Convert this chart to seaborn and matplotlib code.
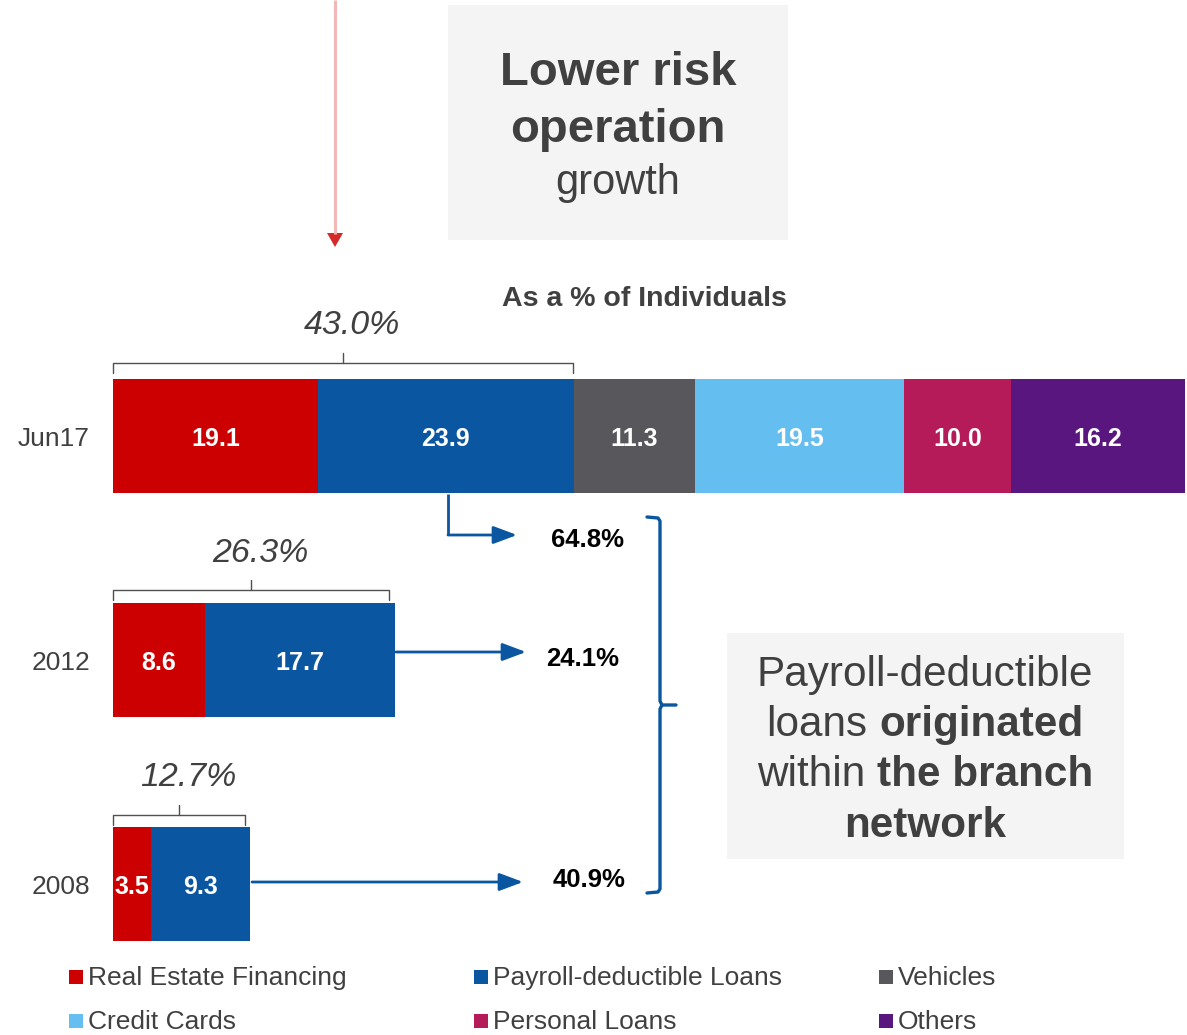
import matplotlib
matplotlib.use("Agg")
import matplotlib.pyplot as plt
import seaborn as sns
import pandas as pd
import numpy as np

# ---------------- data ----------------
periods = ["Jun17", "2012", "2008"]
categories = ["Real Estate Financing", "Payroll-deductible Loans", "Vehicles",
              "Credit Cards", "Personal Loans", "Others"]
jun17_values = [19.1, 23.9, 11.3, 19.5, 10.0, 16.2]
y2012_values = [8.6, 17.7]
y2008_values = [3.5, 9.3]
group_totals = ["43.0%", "26.3%", "12.7%"]
payroll_share = ["64.8%", "24.1%", "40.9%"]
colors = ["#CC0000", "#0A56A0", "#57575C", "#64BEF0", "#B51B59", "#59167F"]

# ---------------- style ----------------
sns.set_theme(style="white")
plt.rcParams["font.family"] = ["Liberation Sans", "DejaVu Sans"]
TXT = "#404040"
DY = 3  # vertical text offset in px

W, H = 1187, 1035
fig = plt.figure(figsize=(W / 100, H / 100), dpi=100)

# bars axes: x in %, y categorical
ax = fig.add_axes([0, 0, 1, 1])
rows = []
for p, vals in zip(periods, [jun17_values, y2012_values, y2008_values]):
    cum = np.cumsum(vals)
    for c, v, cs in zip(categories, vals, cum):
        rows.append({"period": p, "category": c, "value": v, "cum": cs})
df = pd.DataFrame(rows)

# draw cumulative bars from last to first so they stack visually
for c, col in reversed(list(zip(categories, colors))):
    sub = df[df["category"] == c]
    sns.barplot(data=sub, x="cum", y="period", order=periods, color=col,
                width=0.509, saturation=1, ax=ax, errorbar=None, orient="h",
                linewidth=0)

px_per_unit = 10.72
xmin = -113 / px_per_unit
ax.set_xlim(xmin, xmin + W / px_per_unit)
ax.set_ylim(599 / 224, -436 / 224)
ax.axis("off")

# value labels inside segments
for _, r in df.iterrows():
    yi = periods.index(r["period"])
    ax.text(r["cum"] - r["value"] / 2, yi + DY / 224, f"{r['value']:.1f}",
            color="white", fontsize=18, fontweight="bold", ha="center",
            va="center")

# ---------------- overlay in pixel coords ----------------
ov = fig.add_axes([0, 0, 1, 1], facecolor="none")
ov.set_xlim(0, W)
ov.set_ylim(H, 0)
ov.axis("off")

# period labels
for p, yc in zip(periods, [436, 660, 884]):
    ov.text(90, yc + DY, p, ha="right", va="center", fontsize=19, color=TXT)

# title box
ov.add_patch(plt.Rectangle((448, 5), 340, 235, color="#F4F4F4", lw=0, zorder=0))
ov.text(618, 70 + DY, "Lower risk", ha="center", va="center", fontsize=34,
        fontweight="bold", color=TXT)
ov.text(618, 127 + DY, "operation", ha="center", va="center", fontsize=34,
        fontweight="bold", color=TXT)
ov.text(618, 180 + DY, "growth", ha="center", va="center", fontsize=30, color=TXT)

# red pointer arrow
ov.plot([335, 335], [0, 234], color="#F2B8B8", lw=2.2, solid_capstyle="butt")
ov.add_patch(plt.Polygon([[327, 233], [343, 233], [335, 247]], closed=True,
                         color="#D42A2A", lw=0))

ov.text(644, 296 + DY, "As a % of Individuals", ha="center", va="center",
        fontsize=20.5, fontweight="bold", color=TXT)

# braces over groups
def top_brace(x0, x1, yline, label, ylab):
    xm = (x0 + x1) / 2
    ov.plot([x0, x0, x1, x1], [yline + 10, yline, yline, yline + 10],
            color="#505050", lw=1.0)
    ov.plot([xm, xm], [yline, yline - 10], color="#505050", lw=1.0)
    ov.text(xm + 9, ylab + DY, label, ha="center", va="center", fontsize=24.5,
            style="italic", color=TXT)

top_brace(113, 573, 363, group_totals[0], 322)
top_brace(113, 389, 590, group_totals[1], 551)
top_brace(113, 245, 815, group_totals[2], 774)

# blue arrows
BLUE = "#0A56A0"
ov.annotate("", xy=(517, 535), xytext=(448, 535),
            arrowprops=dict(arrowstyle="-|>,head_length=1.2,head_width=0.45",
                            color=BLUE, lw=2, shrinkA=0, shrinkB=0))
ov.plot([448, 448], [494, 535], color=BLUE, lw=2, solid_capstyle="butt")
ov.annotate("", xy=(526, 652), xytext=(396, 652),
            arrowprops=dict(arrowstyle="-|>,head_length=1.2,head_width=0.45",
                            color=BLUE, lw=2, shrinkA=0, shrinkB=0))
ov.annotate("", xy=(523, 882), xytext=(252, 882),
            arrowprops=dict(arrowstyle="-|>,head_length=1.2,head_width=0.45",
                            color=BLUE, lw=2, shrinkA=0, shrinkB=0))

for s, (xc, yc) in zip(payroll_share, [(587, 537), (583, 656), (589, 877)]):
    ov.text(xc, yc + DY, s, ha="center", va="center", fontsize=18.5,
            fontweight="bold", color="black")

# right curly brace
ov.plot([647, 658, 660, 660, 662, 676], [517, 518, 521, 701, 705, 705],
        color=BLUE, lw=2.4, solid_joinstyle="round")
ov.plot([662, 660, 660, 658, 647], [705, 709, 889, 892, 893],
        color=BLUE, lw=2.4, solid_joinstyle="round")

# right text box
ov.add_patch(plt.Rectangle((727, 633), 397, 226, color="#F4F4F4", lw=0, zorder=0))
renderer = fig.canvas.get_renderer()

def mixed_line(xc, yc, parts, fs=30.4):
    texts = []
    for s, bold in parts:
        t = ov.text(0, yc + DY, s, ha="left", va="center", fontsize=fs,
                    fontweight="bold" if bold else "normal", color=TXT)
        texts.append(t)
    a = ov.text(0, 0, "aa", fontsize=fs)
    b = ov.text(0, 0, "a a", fontsize=fs)
    sp = b.get_window_extent(renderer).width - a.get_window_extent(renderer).width
    a.remove(); b.remove()
    widths = [t.get_window_extent(renderer).width for t in texts]
    total = sum(widths) + sp * (len(texts) - 1)
    x = xc - total / 2
    for t, w in zip(texts, widths):
        t.set_x(x)
        x += w + sp

mixed_line(925, 672, [("Payroll-deductible", False)])
mixed_line(925, 722, [("loans", False), ("originated", True)])
mixed_line(925, 772, [("within", False), ("the branch", True)])
mixed_line(925, 823, [("network", True)])

# legend (manual, fixed columns)
leg_x = [76, 481, 886]
leg_y = [977, 1021]
for i, (c, col) in enumerate(zip(categories, colors)):
    r, k = divmod(i, 3)
    ov.scatter([leg_x[k]], [leg_y[r]], marker="s", s=90, color=col, lw=0)
    ov.text(leg_x[k] + 12, leg_y[r] + 1, c, ha="left", va="center",
            fontsize=19, color=TXT)

fig.savefig("out.png", dpi=100)
